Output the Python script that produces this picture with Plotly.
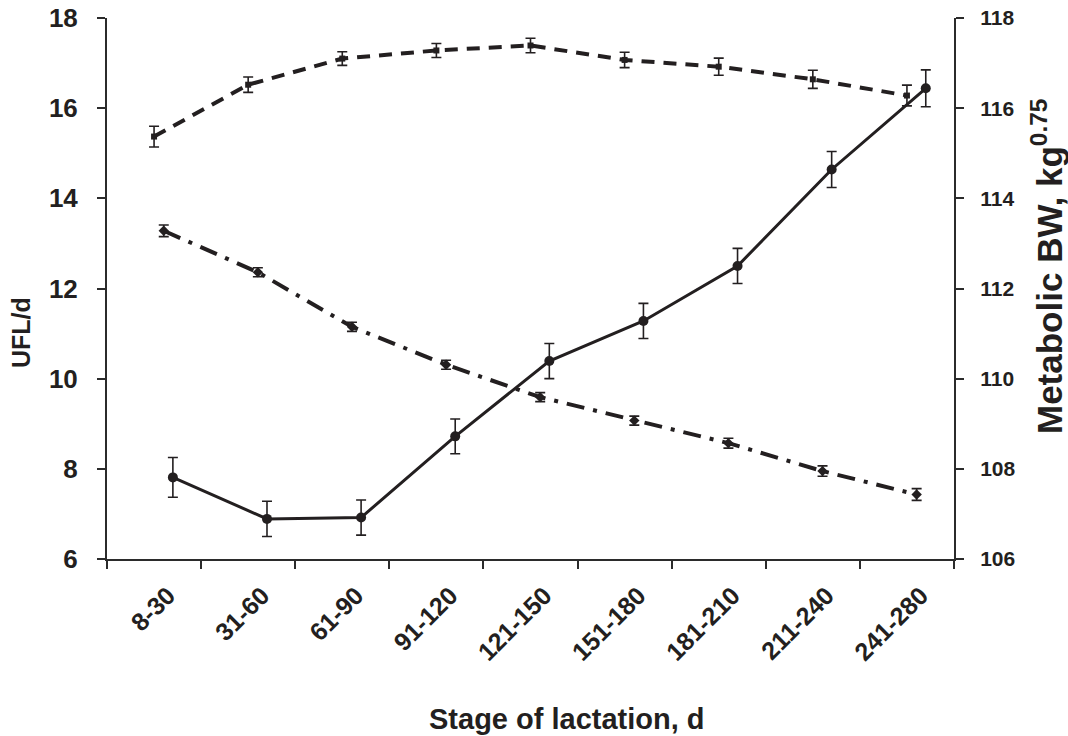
import plotly.graph_objects as go

categories = ["8-30", "31-60", "61-90", "91-120", "121-150", "151-180", "181-210", "211-240", "241-280"]

# dashed series (left axis, UFL/d)
dashed_vals = [15.37, 16.52, 17.10, 17.28, 17.39, 17.07, 16.92, 16.64, 16.28]
dashed_err = [0.23, 0.17, 0.15, 0.155, 0.16, 0.17, 0.19, 0.20, 0.23]

# dash-dot series (left axis, UFL/d)
dashdot_vals = [13.28, 12.36, 11.15, 10.31, 9.59, 9.07, 8.57, 7.95, 7.43]
dashdot_err = [0.13, 0.10, 0.10, 0.10, 0.10, 0.10, 0.11, 0.115, 0.13]

# solid series (right axis, metabolic BW kg^0.75)
solid_vals = [107.81, 106.89, 106.92, 108.72, 110.39, 111.28, 112.50, 114.64, 116.44]
solid_err = [0.44, 0.39, 0.39, 0.385, 0.39, 0.39, 0.39, 0.40, 0.41]

series_offsets = [0.0, 0.103, 0.2]

idx = list(range(len(categories)))
boundaries = [i - 0.5 for i in range(len(categories) + 1)]

INK = "#231f20"
AX = "#2b2b2b"
FONT = "Liberation Sans, Arial, sans-serif"

W, H = 1068, 736
ML, MR, MT, MB = 107, 114, 18, 177
PH = H - MT - MB

fig = go.Figure()

fig.add_trace(go.Scatter(
    x=[i + series_offsets[0] for i in idx], y=dashed_vals,
    mode="lines+markers",
    line=dict(color=INK, width=4, dash="13px,9px"),
    marker=dict(symbol="square", size=6, color=INK),
    error_y=dict(type="data", array=dashed_err, color=INK, thickness=1.6, width=5),
    showlegend=False,
))

fig.add_trace(go.Scatter(
    x=[i + series_offsets[1] for i in idx], y=dashdot_vals,
    mode="lines+markers",
    line=dict(color=INK, width=4, dash="18px,9px,4px,9px"),
    marker=dict(symbol="diamond", size=8, color=INK),
    error_y=dict(type="data", array=dashdot_err, color=INK, thickness=1.6, width=5),
    showlegend=False,
))

fig.add_trace(go.Scatter(
    x=[i + series_offsets[2] for i in idx], y=solid_vals,
    mode="lines+markers", yaxis="y2",
    line=dict(color=INK, width=3),
    marker=dict(symbol="circle", size=10, color=INK),
    error_y=dict(type="data", array=solid_err, color=INK, thickness=1.6, width=5),
    showlegend=False,
))

fig.update_layout(
    width=W, height=H,
    margin=dict(l=ML, r=MR, t=MT, b=MB, autoexpand=False),
    paper_bgcolor="white", plot_bgcolor="white",
    font=dict(family=FONT, color=INK),
    xaxis=dict(
        range=[-0.5, 8.5], automargin=False,
        tickmode="array", tickvals=idx, ticktext=categories,
        ticks="", tickangle=-45,
        tickfont=dict(size=25, family=FONT, weight="bold", color=INK),
        ticklabelstandoff=10, ticklabelshift=14,
        showline=True, linecolor=AX, linewidth=2,
        showgrid=False, zeroline=False,
        minor=dict(tickmode="array", tickvals=boundaries, ticks="outside",
                   ticklen=8, tickwidth=2, tickcolor=AX, showgrid=False),
    ),
    yaxis=dict(
        range=[6, 18], tickmode="array", tickvals=[6, 8, 10, 12, 14, 16, 18],
        automargin=False,
        ticks="outside", ticklen=8, tickwidth=2, tickcolor=AX,
        tickfont=dict(size=26, family=FONT, weight="bold", color=INK),
        ticklabelstandoff=14,
        showline=True, linecolor=AX, linewidth=2,
        showgrid=False, zeroline=False,
    ),
    yaxis2=dict(
        range=[106, 118], tickmode="array", tickvals=[106, 108, 110, 112, 114, 116, 118],
        overlaying="y", side="right", automargin=False,
        ticks="outside", ticklen=8, tickwidth=2, tickcolor=AX,
        tickfont=dict(size=21, family=FONT, weight="bold", color=INK),
        ticklabelstandoff=12,
        showline=True, linecolor=AX, linewidth=2,
        showgrid=False, zeroline=False,
    ),
    annotations=[
        dict(text="Stage of lactation, d", xref="paper", yref="paper",
             x=(567 - ML) / (W - ML - MR), y=0, yshift=-160,
             xanchor="center", yanchor="middle", showarrow=False,
             font=dict(size=29, family=FONT, weight="bold", color=INK)),
        dict(text="UFL/d", xref="paper", yref="paper",
             x=0, xshift=-86, y=(MT + PH - 333) / PH,
             xanchor="center", yanchor="middle", textangle=-90, showarrow=False,
             font=dict(size=25, family=FONT, weight="bold", color=INK)),
        dict(text="Metabolic BW, kg<sup>0.75</sup>", xref="paper", yref="paper",
             x=1, xshift=93, y=(MT + PH - 266) / PH,
             xanchor="center", yanchor="middle", textangle=-90, showarrow=False,
             font=dict(size=35, family=FONT, weight="bold", color=INK)),
    ],
)

fig.write_html("out.html", config={"displayModeBar": False},
               post_script="document.body.style.margin='0';")
